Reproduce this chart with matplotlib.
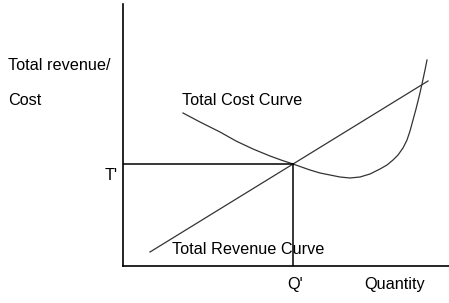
import matplotlib
matplotlib.use("Agg")
import matplotlib.pyplot as plt

plt.rcParams["font.family"] = ["Liberation Sans", "DejaVu Sans"]

# Chart values (axes units ~ pixels from origin)
revenue_q = [27, 305]
revenue_v = [14, 185]

cost_q = [60, 77, 97, 113, 130, 147, 158, 170, 187, 197, 207, 217, 227,
          237, 247, 257, 264, 270, 275, 280, 284, 287, 290, 293, 296, 299,
          302, 304]
cost_v = [153, 144, 134, 125, 117, 110, 106, 102, 96, 93, 91, 89, 88,
          89, 92, 97, 101, 106, 111, 118, 126, 135, 146, 157, 169, 182,
          196, 206]

# equilibrium point (Q', T')
eq_q = 170
eq_v = 102

W, H = 449, 303
X0, Y0 = 123, 266          # pixel position of the origin
XMAX, YMAX = W - X0, Y0 - 4

fig = plt.figure(figsize=(W / 100, H / 100), dpi=100)
ax = fig.add_axes([X0 / W, (H - Y0) / H, XMAX / W, YMAX / H])
ax.set_xlim(0, XMAX)
ax.set_ylim(0, YMAX)
for s in ["top", "right"]:
    ax.spines[s].set_visible(False)
for s in ["left", "bottom"]:
    ax.spines[s].set_linewidth(1.2)
ax.set_xticks([])
ax.set_yticks([])

curve_kw = dict(color="#333333", linewidth=0.9)
ax.plot(revenue_q, revenue_v, **curve_kw)
ax.plot(cost_q, cost_v, **curve_kw)

# guide lines to the axes
ax.plot([0, eq_q], [eq_v, eq_v], color="black", linewidth=1.1)
ax.plot([eq_q, eq_q], [0, eq_v], color="black", linewidth=1.1)

fs = 11.7


def ftext(px, py, s, ha="left"):
    fig.text(px / W, 1 - py / H, s, ha=ha, va="center", fontsize=fs)


ftext(8, 66, "Total revenue/")
ftext(8, 101, "Cost")
ftext(182, 101, "Total Cost Curve")
ftext(172, 249, "Total Revenue Curve")
ftext(118, 175, "T'", ha="right")
ftext(295, 285, "Q'", ha="center")
ftext(395, 285, "Quantity", ha="center")

fig.savefig("out.png", dpi=100)
